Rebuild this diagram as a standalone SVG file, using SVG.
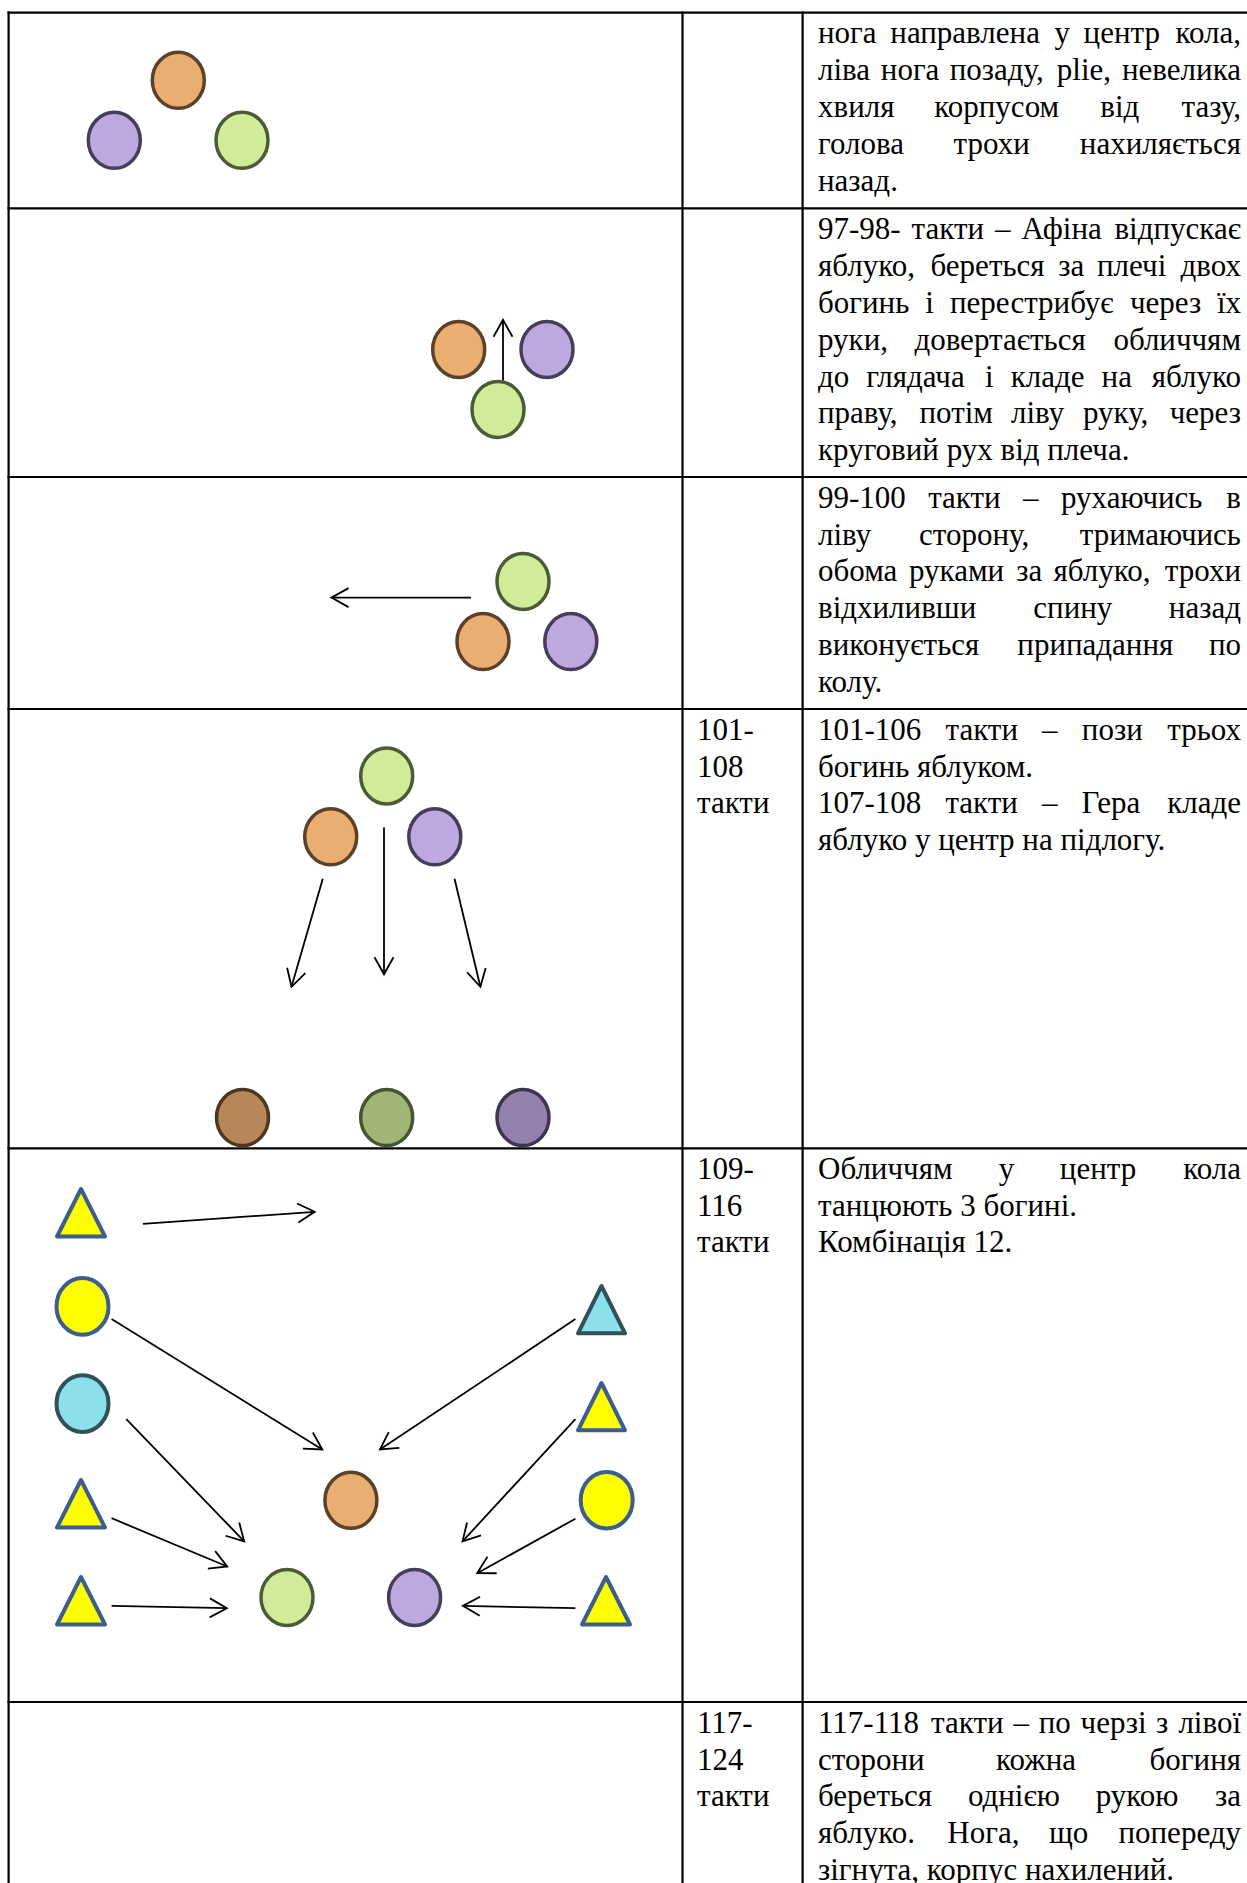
<svg xmlns="http://www.w3.org/2000/svg" width="1247" height="1883" viewBox="0 0 1247 1883">
<defs>
<marker id="ah" markerUnits="userSpaceOnUse" markerWidth="22" markerHeight="22" viewBox="0 0 22 22" refX="19" refY="11" orient="auto">
<path d="M2,1.5 L19,11 L2,20.5" fill="none" stroke="#000" stroke-width="1.8"/>
</marker>
</defs>
<style>
.grid{stroke:#000;stroke-width:2.2;fill:none}
.t{font-family:"Liberation Serif","Times New Roman",serif;font-size:31px;fill:#000}
.e{text-anchor:end}
.con{stroke:#000;stroke-width:1.8;fill:none;marker-end:url(#ah)}
.or{fill:#EBAE72;stroke:#5C4128;stroke-width:3.5}
.gr{fill:#D1EC99;stroke:#4C5B36;stroke-width:3.5}
.pu{fill:#BDA9E0;stroke:#463D58;stroke-width:3.5}
.dor{fill:#B7875A;stroke:#4B3722;stroke-width:3.5}
.dgr{fill:#A0B576;stroke:#46542F;stroke-width:3.5}
.dpu{fill:#9381AD;stroke:#3E3552;stroke-width:3.5}
.yc{fill:#FFFF00;stroke:#3B5E8F;stroke-width:4}
.cc{fill:#8CE0EB;stroke:#2F5258;stroke-width:4}
.yt{fill:#FFFF00;stroke:#3B5E8F;stroke-width:4;stroke-linejoin:round}
.ct{fill:#8CE0EB;stroke:#2F5258;stroke-width:4;stroke-linejoin:round}
</style>
<rect x="0" y="0" width="1247" height="1883" fill="#fff"/>

<g id="table" class="grid">
<line x1="7.5" y1="12.7" x2="1247" y2="12.7"/>
<line x1="7.5" y1="208.3" x2="1247" y2="208.3"/>
<line x1="7.5" y1="477" x2="1247" y2="477"/>
<line x1="7.5" y1="709" x2="1247" y2="709"/>
<line x1="7.5" y1="1148.3" x2="1247" y2="1148.3"/>
<line x1="7.5" y1="1702" x2="1247" y2="1702"/>
<line x1="8.6" y1="11.6" x2="8.6" y2="1883"/>
<line x1="682.5" y1="11.6" x2="682.5" y2="1883"/>
<line x1="802.6" y1="11.6" x2="802.6" y2="1883"/>
</g>

<g id="row1-nodes">
<ellipse id="r1-orange" class="or" cx="178.3" cy="80.3" rx="26" ry="28"/>
<ellipse id="r1-purple" class="pu" cx="114.3" cy="140.3" rx="26" ry="28"/>
<ellipse id="r1-green" class="gr" cx="242" cy="140.3" rx="26" ry="28"/>
</g>
<g id="row2-nodes">
<ellipse id="r2-orange" class="or" cx="458.7" cy="349.4" rx="26" ry="28"/>
<ellipse id="r2-purple" class="pu" cx="547" cy="349.4" rx="26" ry="28"/>
<ellipse id="r2-green" class="gr" cx="498" cy="409.4" rx="26" ry="28"/>
</g>
<g id="row3-nodes">
<ellipse id="r3-green" class="gr" cx="523" cy="581.4" rx="26" ry="28"/>
<ellipse id="r3-orange" class="or" cx="483" cy="641.6" rx="26" ry="28"/>
<ellipse id="r3-purple" class="pu" cx="570.8" cy="641.6" rx="26" ry="28"/>
</g>
<g id="row4-nodes">
<ellipse id="r4-green" class="gr" cx="386.7" cy="776" rx="26" ry="28"/>
<ellipse id="r4-orange" class="or" cx="330.7" cy="836.8" rx="26" ry="28"/>
<ellipse id="r4-purple" class="pu" cx="434.8" cy="836.8" rx="26" ry="28"/>
<ellipse id="r4-brown" class="dor" cx="242.5" cy="1117.6" rx="26" ry="28"/>
<ellipse id="r4-darkgreen" class="dgr" cx="386.7" cy="1117.6" rx="26" ry="28"/>
<ellipse id="r4-darkpurple" class="dpu" cx="523" cy="1117.6" rx="26" ry="28"/>
</g>
<g id="row5-nodes">
<polygon id="r5-tri-l1" class="yt" points="81,1189 57,1236.5 105,1236.5"/>
<ellipse id="r5-ycirc-l" class="yc" cx="82.5" cy="1306.4" rx="26" ry="28.3"/>
<ellipse id="r5-ccirc-l" class="cc" cx="82.5" cy="1403.6" rx="26" ry="28.3"/>
<polygon id="r5-tri-l3" class="yt" points="81,1480 57,1527.5 105,1527.5"/>
<polygon id="r5-tri-l4" class="yt" points="81,1577 57,1624.5 105,1624.5"/>
<polygon id="r5-ctri-r1" class="ct" points="601.5,1286 578,1333.3 625,1333.3"/>
<polygon id="r5-tri-r2" class="yt" points="601.5,1383 578,1430.3 625,1430.3"/>
<ellipse id="r5-ycirc-r" class="yc" cx="606.7" cy="1500.2" rx="26" ry="28.3"/>
<polygon id="r5-tri-r4" class="yt" points="606,1577 582,1624.5 630,1624.5"/>
<ellipse id="r5-orange" class="or" cx="350.9" cy="1500.3" rx="26" ry="28"/>
<ellipse id="r5-green" class="gr" cx="287" cy="1597.4" rx="26" ry="28"/>
<ellipse id="r5-purple" class="pu" cx="414.6" cy="1597.4" rx="26" ry="28"/>
</g>

<g id="connectors">
<line class="con" x1="503" y1="380.5" x2="503" y2="319.8"/>
<line class="con" x1="471" y1="597.6" x2="331.5" y2="597.6"/>
<line class="con" x1="322.8" y1="878.8" x2="291.5" y2="986.8"/>
<line class="con" x1="384" y1="827.4" x2="384" y2="974.3"/>
<line class="con" x1="454.5" y1="878.8" x2="480.4" y2="986.8"/>
<line class="con" x1="142.9" y1="1223.9" x2="314.7" y2="1211.8"/>
<line class="con" x1="111.6" y1="1319.1" x2="322.3" y2="1449.5"/>
<line class="con" x1="126.3" y1="1419.1" x2="244.2" y2="1541.4"/>
<line class="con" x1="111.6" y1="1518.2" x2="227.2" y2="1566.5"/>
<line class="con" x1="111.6" y1="1605.9" x2="226.8" y2="1608.2"/>
<line class="con" x1="575.4" y1="1319.1" x2="379.9" y2="1449.5"/>
<line class="con" x1="575.4" y1="1419.1" x2="462.5" y2="1541.4"/>
<line class="con" x1="575.4" y1="1518.7" x2="477.2" y2="1573.2"/>
<line class="con" x1="575.4" y1="1608.2" x2="462.9" y2="1605.9"/>
</g>

<g id="row1-text">
<text class="t" y="43.3"><tspan x="818">нога</tspan><tspan x="890.3">направлена</tspan><tspan x="1054.4">у</tspan><tspan x="1083.6">центр</tspan></text>
<text class="t e" x="1241" y="43.3">кола,</text>
<text class="t" y="80.2"><tspan x="818">ліва</tspan><tspan x="880.8">нога</tspan><tspan x="949.7">позаду,</tspan><tspan x="1056.8">plie,</tspan></text>
<text class="t e" x="1241" y="80.2">невелика</text>
<text class="t" y="117.1"><tspan x="818">хвиля</tspan><tspan x="934.3">корпусом</tspan><tspan x="1100.3">від</tspan></text>
<text class="t e" x="1241" y="117.1">тазу,</text>
<text class="t" y="154"><tspan x="818">голова</tspan><tspan x="953.6">трохи</tspan></text>
<text class="t e" x="1241" y="154">нахиляється</text>
<text class="t" x="818" y="190.9">назад.</text>
</g>

<g id="row2-text">
<text class="t" y="238.9"><tspan x="818">97-98-</tspan><tspan x="911.6">такти</tspan><tspan x="995">–</tspan><tspan x="1021.5">Афіна</tspan></text>
<text class="t e" x="1241" y="238.9">відпускає</text>
<text class="t" y="275.8"><tspan x="818">яблуко,</tspan><tspan x="930.5">береться</tspan><tspan x="1058.2">за</tspan><tspan x="1097">плечі</tspan></text>
<text class="t e" x="1241" y="275.8">двох</text>
<text class="t" y="312.7"><tspan x="818">богинь</tspan><tspan x="925.3">і</tspan><tspan x="950">перестрибує</tspan><tspan x="1130">через</tspan></text>
<text class="t e" x="1241" y="312.7">їх</text>
<text class="t" y="349.6"><tspan x="818">руки,</tspan><tspan x="914.4">довертається</tspan></text>
<text class="t e" x="1241" y="349.6">обличчям</text>
<text class="t" y="386.5"><tspan x="818">до</tspan><tspan x="866.2">глядача</tspan><tspan x="985">і</tspan><tspan x="1010.8">кладе</tspan><tspan x="1101.6">на</tspan></text>
<text class="t e" x="1241" y="386.5">яблуко</text>
<text class="t" y="423.4"><tspan x="818">праву,</tspan><tspan x="919.5">потім</tspan><tspan x="1011">ліву</tspan><tspan x="1083">руку,</tspan></text>
<text class="t e" x="1241" y="423.4">через</text>
<text class="t" x="818" y="460.3">круговий рух від плеча.</text>
</g>

<g id="row3-text">
<text class="t" y="507.6"><tspan x="818">99-100</tspan><tspan x="928.2">такти</tspan><tspan x="1023.1">–</tspan><tspan x="1061">рухаючись</tspan></text>
<text class="t e" x="1241" y="507.6">в</text>
<text class="t" y="544.5"><tspan x="818">ліву</tspan><tspan x="919">сторону,</tspan></text>
<text class="t e" x="1241" y="544.5">тримаючись</text>
<text class="t" y="581.4"><tspan x="818">обома</tspan><tspan x="909">руками</tspan><tspan x="1016.2">за</tspan><tspan x="1053.5">яблуко,</tspan></text>
<text class="t e" x="1241" y="581.4">трохи</text>
<text class="t" y="618.3"><tspan x="818">відхиливши</tspan><tspan x="1033.3">спину</tspan></text>
<text class="t e" x="1241" y="618.3">назад</text>
<text class="t" y="655.2"><tspan x="818">виконується</tspan><tspan x="1017.3">припадання</tspan></text>
<text class="t e" x="1241" y="655.2">по</text>
<text class="t" x="818" y="692.1">колу.</text>
</g>

<g id="row4-text">
<text class="t" x="697" y="739.6">101-</text>
<text class="t" x="697" y="776.5">108</text>
<text class="t" x="697" y="813.4">такти</text>
<text class="t" y="739.6"><tspan x="818">101-106</tspan><tspan x="945.5">такти</tspan><tspan x="1042.1">–</tspan><tspan x="1081.8">пози</tspan></text>
<text class="t e" x="1241" y="739.6">трьох</text>
<text class="t" x="818" y="776.5">богинь яблуком.</text>
<text class="t" y="813.4"><tspan x="818">107-108</tspan><tspan x="945.4">такти</tspan><tspan x="1042">–</tspan><tspan x="1081.6">Гера</tspan></text>
<text class="t e" x="1241" y="813.4">кладе</text>
<text class="t" x="818" y="850.3">яблуко у центр на підлогу.</text>
</g>

<g id="row5-text">
<text class="t" x="697" y="1178.6">109-</text>
<text class="t" x="697" y="1215.5">116</text>
<text class="t" x="697" y="1252.4">такти</text>
<text class="t" y="1178.6"><tspan x="818">Обличчям</tspan><tspan x="998.8">у</tspan><tspan x="1059.8">центр</tspan></text>
<text class="t e" x="1241" y="1178.6">кола</text>
<text class="t" x="818" y="1215.5">танцюють 3 богині.</text>
<text class="t" x="818" y="1252.4">Комбінація 12.</text>
</g>

<g id="row6-text">
<text class="t" x="697" y="1732.6">117-</text>
<text class="t" x="697" y="1769.5">124</text>
<text class="t" x="697" y="1806.4">такти</text>
<text class="t" y="1732.6"><tspan x="818">117-118</tspan><tspan x="931.1">такти</tspan><tspan x="1013.4">–</tspan><tspan x="1038.7">по</tspan><tspan x="1080.6">черзі</tspan><tspan x="1156">з</tspan></text>
<text class="t e" x="1241" y="1732.6">лівої</text>
<text class="t" y="1769.5"><tspan x="818">сторони</tspan><tspan x="996">кожна</tspan></text>
<text class="t e" x="1241" y="1769.5">богиня</text>
<text class="t" y="1806.4"><tspan x="818">береться</tspan><tspan x="967.9">однією</tspan><tspan x="1095.7">рукою</tspan></text>
<text class="t e" x="1241" y="1806.4">за</text>
<text class="t" y="1843.3"><tspan x="818">яблуко.</tspan><tspan x="947.3">Нога,</tspan><tspan x="1049">що</tspan></text>
<text class="t e" x="1241" y="1843.3">попереду</text>
<text class="t" x="818" y="1880.2">зігнута, корпус нахилений.</text>
</g>
</svg>
